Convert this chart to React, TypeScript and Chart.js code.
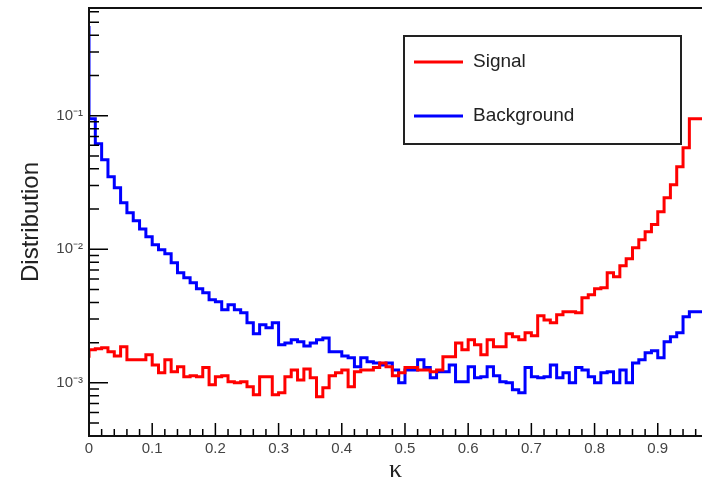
import React, { useEffect, useRef } from 'react';
import { Chart, registerables } from 'chart.js';

Chart.register(...registerables);

// ---- data ----
const BIN_WIDTH = 0.01;
const X_MIN = 0;
const X_MAX = 0.97;
const Y_MIN = 4e-4;
const Y_MAX = 0.64;

const seriesLabels = ['Signal', 'Background'];
const seriesColors = ['#ff0000', '#0000ff'];

const signal = [
  0.00154, 0.00177, 0.0018, 0.00183, 0.00171, 0.00159, 0.00186, 0.00149, 0.00149, 0.00149,
  0.00162, 0.00136, 0.00119, 0.00149, 0.00121, 0.00132, 0.00111, 0.00113, 0.00111, 0.0013,
  0.000966, 0.00111, 0.00113, 0.00102, 0.001, 0.00102, 0.000933, 0.000813, 0.00111, 0.00111,
  0.000813, 0.000842, 0.00111, 0.00125, 0.00105, 0.00127, 0.00109, 0.000786, 0.000917, 0.00113,
  0.00119, 0.00125, 0.000933, 0.00121, 0.00125, 0.00125, 0.0013, 0.00141, 0.00132, 0.00113,
  0.00119, 0.0013, 0.0013, 0.00125, 0.00125, 0.00121, 0.00125, 0.00157, 0.00157, 0.00199,
  0.00177, 0.0021, 0.00193, 0.00162, 0.0021, 0.00186, 0.00186, 0.00233, 0.00221, 0.0021,
  0.00237, 0.00225, 0.00318, 0.00296, 0.00282, 0.00323, 0.0034, 0.0034, 0.00335, 0.00433,
  0.00456, 0.00506, 0.00515, 0.00667, 0.00622, 0.00752, 0.00849, 0.01026, 0.0118, 0.0135,
  0.0153, 0.0191, 0.0243, 0.0304, 0.0415, 0.0576, 0.095,
];

const background = [
  0.47, 0.095, 0.0617, 0.0468, 0.0349, 0.0289, 0.0223, 0.0188, 0.01635, 0.0142,
  0.0124, 0.0108, 0.0099, 0.00925, 0.00792, 0.00667, 0.00612, 0.00561, 0.00506, 0.00472,
  0.00419, 0.00404, 0.00352, 0.00384, 0.00352, 0.00335, 0.00282, 0.00233, 0.00272, 0.00258,
  0.00282, 0.00193, 0.00199, 0.0021, 0.00203, 0.00189, 0.00199, 0.0021, 0.00217, 0.00171,
  0.00171, 0.00159, 0.00154, 0.00132, 0.00154, 0.00144, 0.00141, 0.00136, 0.00141, 0.00125,
  0.001, 0.00125, 0.00125, 0.00149, 0.0013, 0.00109, 0.00121, 0.00121, 0.00136, 0.00102,
  0.00102, 0.00132, 0.00109, 0.00111, 0.00132, 0.00113, 0.00102, 0.001, 0.000886, 0.000842,
  0.0013, 0.00111, 0.00109, 0.00111, 0.00136, 0.00109, 0.00119, 0.001, 0.0013, 0.00125,
  0.00111, 0.001, 0.00119, 0.00121, 0.001, 0.00125, 0.001, 0.00141, 0.00149, 0.00168,
  0.00174, 0.00154, 0.00203, 0.00221, 0.00237, 0.00312, 0.0034,
];

const xMajorTicks = [0, 0.1, 0.2, 0.3, 0.4, 0.5, 0.6, 0.7, 0.8, 0.9];
const xMinorStep = 0.02;
const yMajorTicks = [1e-3, 1e-2, 1e-1];
const yTickLabels = ['10\u207B\u00B3', '10\u207B\u00B2', '10\u207B\u00B9'];
const xTitle = '\u03BA';
const yTitle = 'Distribution';

// ---- helpers ----
function toSteps(values: number[]) {
  const pts = values.map((v, i) => ({ x: i * BIN_WIDTH, y: v }));
  pts.push({ x: values.length * BIN_WIDTH, y: values[values.length - 1] });
  return pts;
}

function xMinorTicks(): number[] {
  const out: number[] = [];
  for (let k = 0; k * xMinorStep <= X_MAX + 1e-9; k++) out.push(+(k * xMinorStep).toFixed(4));
  return out;
}

function yMinorTicks(): number[] {
  const out: number[] = [];
  for (let e = -4; e <= 0; e++) {
    for (let m = 1; m <= 9; m++) {
      const v = m * Math.pow(10, e);
      if (v >= Y_MIN * 0.999 && v <= Y_MAX) out.push(v);
    }
  }
  return out;
}

const FONT = "'Liberation Sans', Arial, Helvetica, sans-serif";

const axesPlugin = {
  id: 'rootAxes',
  afterDatasetsDraw(chart: any) {
    const { ctx, chartArea: a, scales } = chart;
    const xs = scales.x;
    const ys = scales.y;
    ctx.save();
    ctx.strokeStyle = '#000';
    ctx.lineWidth = 1.5;
    ctx.beginPath();
    xMinorTicks().forEach((v) => {
      const px = xs.getPixelForValue(v);
      const major = xMajorTicks.some((m) => Math.abs(m - v) < 1e-6);
      ctx.moveTo(px, a.bottom);
      ctx.lineTo(px, a.bottom - (major ? 13 : 7));
    });
    yMinorTicks().forEach((v) => {
      const py = ys.getPixelForValue(v);
      const major = yMajorTicks.some((m) => Math.abs(m - v) / m < 1e-6);
      ctx.moveTo(a.left, py);
      ctx.lineTo(a.left + (major ? 19 : 10), py);
    });
    ctx.stroke();

    ctx.lineWidth = 2;
    ctx.strokeStyle = '#111';
    ctx.beginPath();
    ctx.moveTo(a.left, a.bottom);
    ctx.lineTo(a.left, a.top);
    ctx.lineTo(a.right, a.top);
    ctx.moveTo(a.left - 1, a.bottom);
    ctx.lineTo(a.right, a.bottom);
    ctx.stroke();
    ctx.restore();
  },
};

const legendPlugin = {
  id: 'rootLegend',
  afterDraw(chart: any) {
    const { ctx } = chart;
    const box = { x: 404, y: 36, w: 277, h: 108 };
    ctx.save();
    ctx.fillStyle = '#fff';
    ctx.fillRect(box.x, box.y, box.w, box.h);
    ctx.strokeStyle = '#222';
    ctx.lineWidth = 2;
    ctx.strokeRect(box.x, box.y, box.w, box.h);
    const rows = [62, 116];
    chart.data.datasets.forEach((ds: any, i: number) => {
      const y = rows[i];
      ctx.strokeStyle = ds.borderColor;
      ctx.lineWidth = 3;
      ctx.beginPath();
      ctx.moveTo(414, y);
      ctx.lineTo(463, y);
      ctx.stroke();
      ctx.fillStyle = '#222';
      ctx.font = `19px ${FONT}`;
      ctx.textBaseline = 'middle';
      ctx.textAlign = 'left';
      ctx.fillText(ds.label, 473, y);
    });
    ctx.restore();
  },
};

export default function App() {
  const canvasRef = useRef<HTMLCanvasElement | null>(null);

  useEffect(() => {
    if (!canvasRef.current) return;
    const chart = new Chart(canvasRef.current, {
      type: 'line',
      data: {
        datasets: [signal, background].map((vals, i) => ({
          label: seriesLabels[i],
          data: toSteps(vals),
          borderColor: seriesColors[i],
          backgroundColor: seriesColors[i],
          borderWidth: 3,
          stepped: 'after' as const,
          pointRadius: 0,
          fill: false,
          tension: 0,
        })),
      },
      options: {
        animation: false,
        responsive: true,
        maintainAspectRatio: false,
        layout: { padding: { top: 8, right: 0, left: 0, bottom: 0 } },
        plugins: { legend: { display: false }, tooltip: { enabled: false } },
        scales: {
          x: {
            type: 'linear',
            min: X_MIN,
            max: X_MAX,
            grid: { display: false, drawTicks: false },
            border: { display: false },
            afterBuildTicks: (s: any) => {
              s.ticks = xMajorTicks.map((v) => ({ value: v }));
            },
            afterFit: (s: any) => {
              s.height = 43;
              s.paddingLeft = 0;
              s.paddingRight = 0;
            },
            ticks: {
              autoSkip: false,
              maxRotation: 0,
              padding: 4,
              color: '#444',
              font: { family: FONT, size: 15 },
              callback: (v: any) => (v === 0 ? '0' : Number(v).toFixed(1)),
            },
            title: {
              display: true,
              text: xTitle,
              color: '#222',
              font: { family: "'Liberation Serif', 'DejaVu Serif', serif", size: 26, lineHeight: 1 },
              padding: { top: 0, bottom: -4 },
            },
          },
          y: {
            type: 'logarithmic',
            min: Y_MIN,
            max: Y_MAX,
            grid: { display: false, drawTicks: false },
            border: { display: false },
            afterBuildTicks: (s: any) => {
              s.ticks = yMajorTicks.map((v) => ({ value: v }));
            },
            afterFit: (s: any) => {
              s.width = 89;
              s.paddingTop = 0;
              s.paddingBottom = 0;
            },
            ticks: {
              padding: 6,
              color: '#444',
              font: { family: FONT, size: 15 },
              callback: (v: any) => {
                const idx = yMajorTicks.findIndex((m) => Math.abs(m - Number(v)) / m < 1e-6);
                return idx >= 0 ? yTickLabels[idx] : '';
              },
            },
            title: {
              display: true,
              text: yTitle,
              color: '#222',
              font: { family: FONT, size: 24 },
              padding: { top: 17, bottom: 0 },
            },
          },
        },
      },
      plugins: [axesPlugin, legendPlugin],
    });
    return () => chart.destroy();
  }, []);

  return (
    <div style={{ position: 'absolute', left: 0, top: 0, width: 702, height: 479, background: '#fff' }}>
      <canvas ref={canvasRef} />
    </div>
  );
}
